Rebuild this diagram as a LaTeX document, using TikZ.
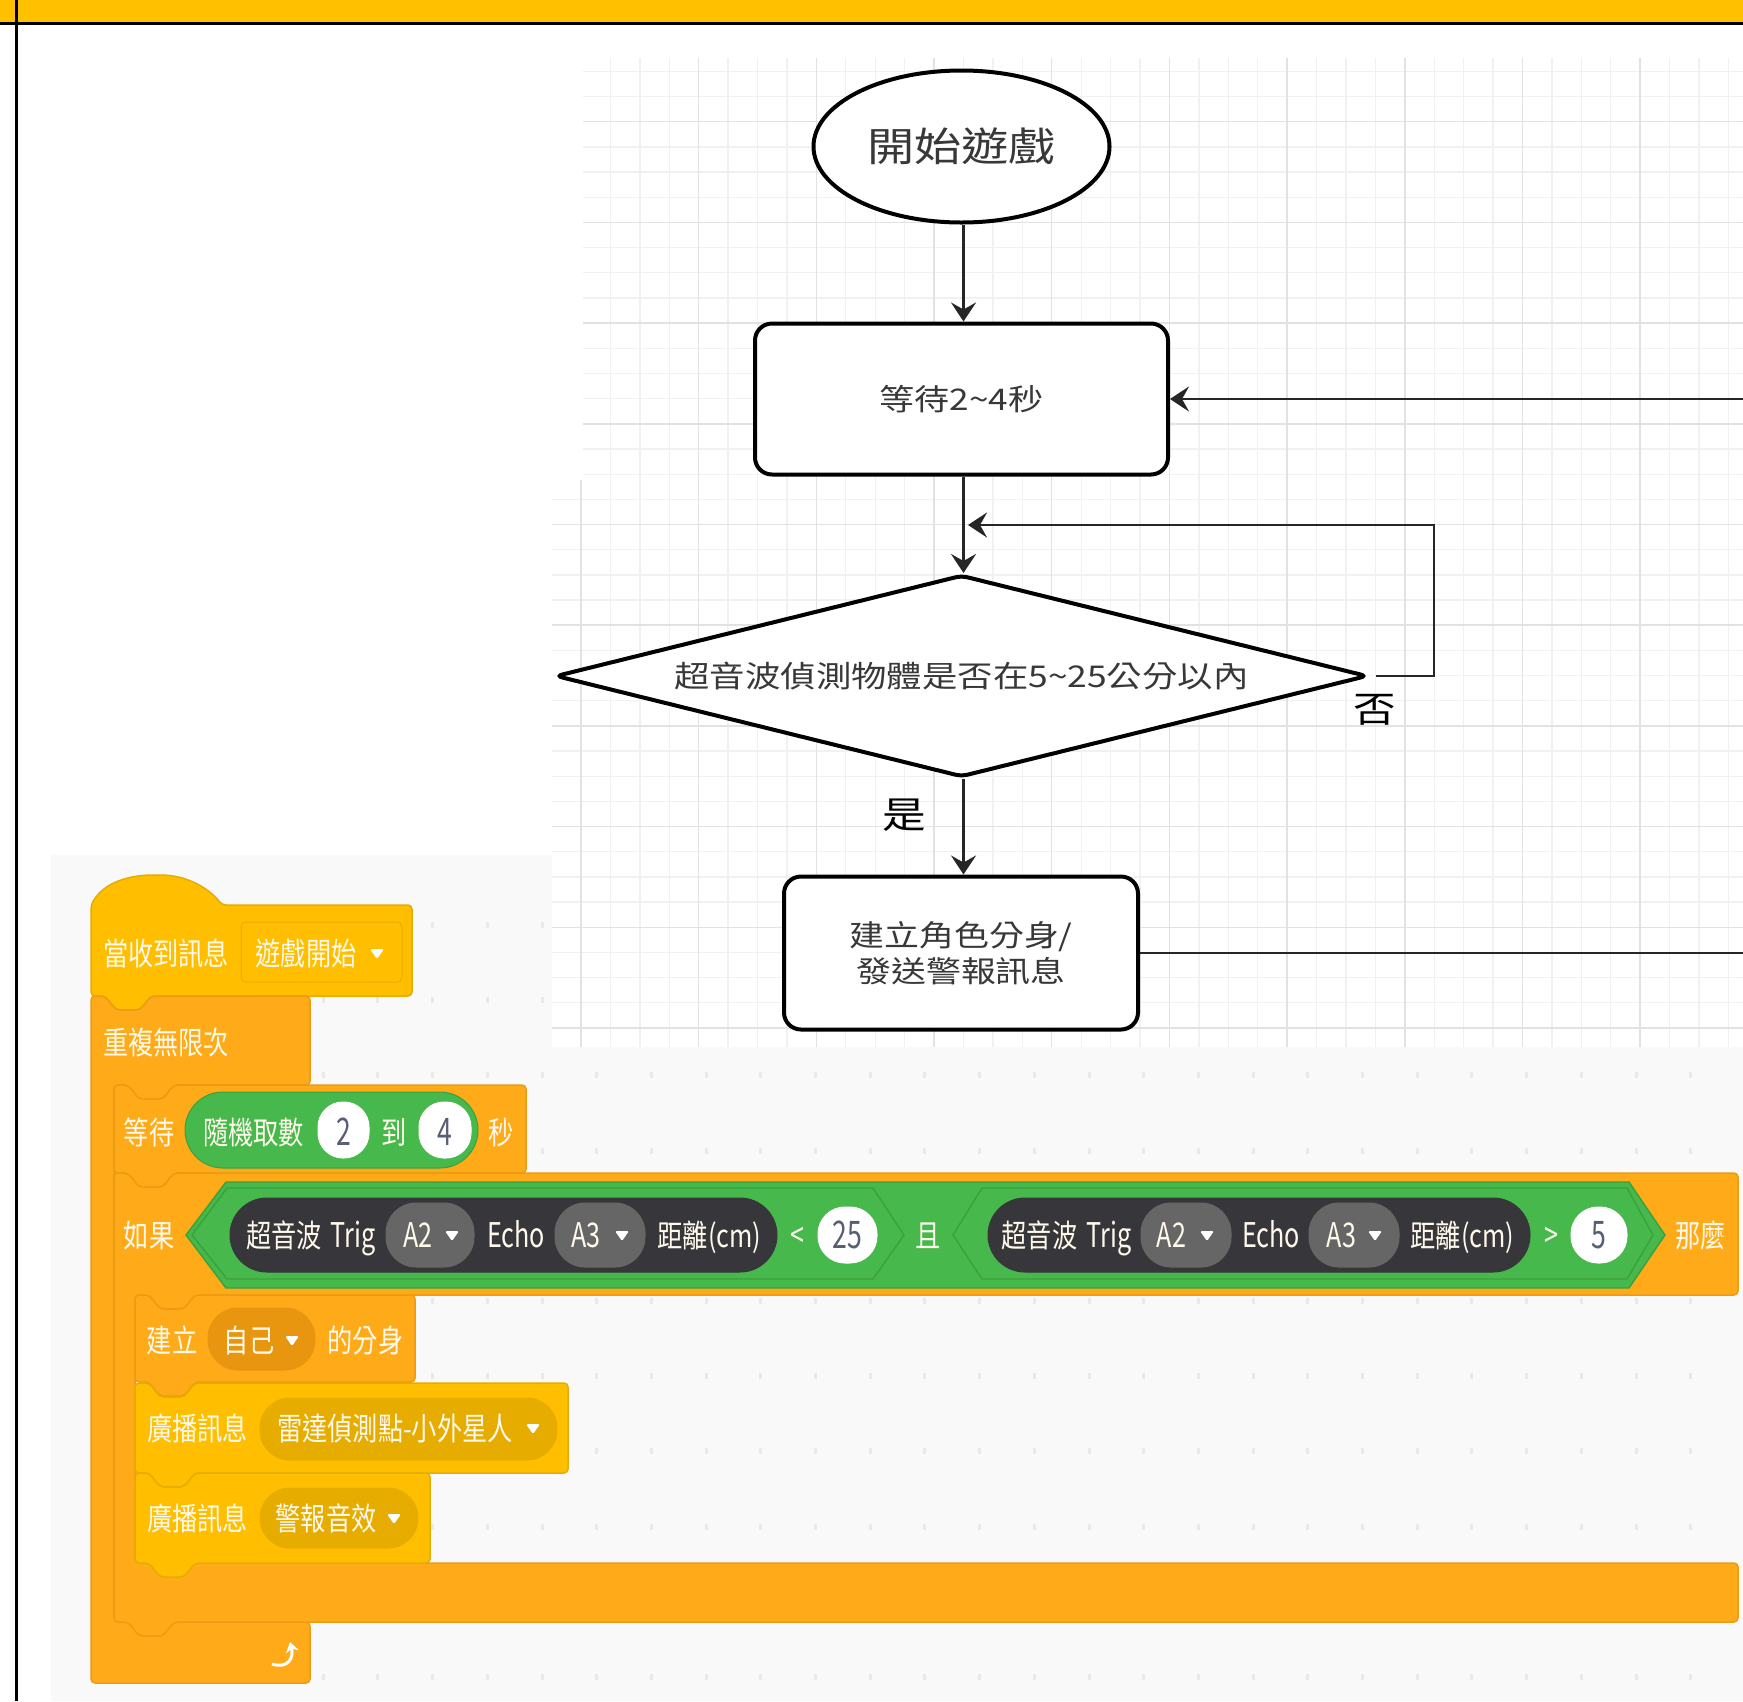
\documentclass[tikz,border=0pt]{standalone}
\usepackage{fontspec}
\usetikzlibrary{shapes.geometric,arrows.meta,calc}
\setmainfont{Noto Sans CJK TC}
\newfontfamily\flowfont[FakeStretch=1.18]{Noto Sans CJK TC}
\newfontfamily\blockfont[FakeStretch=0.8]{Noto Sans CJK TC}
\newfontfamily\latinfont[FakeStretch=0.74]{Noto Sans CJK TC}
\newfontfamily\digitfont[FakeStretch=0.7]{Noto Sans CJK TC}
\definecolor{bandyellow}{HTML}{FFC000}
\definecolor{panelgrey}{HTML}{F9F9F9}
\definecolor{gridminor}{HTML}{F1F1F1}
\definecolor{gridmajor}{HTML}{E2E2E2}
\definecolor{dotgrey}{HTML}{E9E9E9}
\definecolor{hatfill}{HTML}{FFBF00}
\definecolor{hatline}{HTML}{E6AC00}
\definecolor{ctrlfill}{HTML}{FFAB19}
\definecolor{ctrlline}{HTML}{EC9C13}
\definecolor{ctrlpill}{HTML}{E8950F}
\definecolor{opfill}{HTML}{47B84B}
\definecolor{opline}{HTML}{3BA03F}
\definecolor{darkpill}{HTML}{37363A}
\definecolor{greypill}{HTML}{666666}
\definecolor{numtext}{HTML}{575E75}
\definecolor{blocktext}{HTML}{FFF9EC}
\tikzset{
  flownode/.style={draw=black,fill=white,text=black!78,line width=4pt,inner sep=0pt,align=center,font=\flowfont},
  flowrect/.style={flownode,rectangle,rounded corners=17pt},
  flowline/.style={draw=black!85,line width=2.8pt},
  flowarrow/.style={flowline,-{Stealth[length=19pt,width=25pt,inset=7pt]}},
  hatblock/.style={fill=hatfill,draw=hatline,line width=1.5pt,rounded corners=4pt},
  ctrlblock/.style={fill=ctrlfill,draw=ctrlline,line width=1.5pt,rounded corners=4pt},
  btxt/.style={text=blocktext,inner sep=0pt,text height=28pt,text depth=4pt,font=\blockfont\fontsize{31.5}{34}\selectfont},
  ltxt/.style={text=blocktext,inner sep=0pt,text height=30pt,text depth=5.2pt,font=\latinfont\fontsize{34}{36}\selectfont},
  numtxt/.style={text=numtext,inner sep=0pt,text height=32pt,text depth=4.2pt,font=\digitfont\fontsize{38}{40}\selectfont},
  hexshape/.style={fill=opfill,draw=opline,line width=1.4pt},
  caret/.style={fill=white,rounded corners=1.5pt},
}
\newcommand\topnotch[2]{-- ({#1+14},#2) -- ({#1+25},{#2+14}) -- ({#1+49},{#2+14}) -- ({#1+60},#2)}
\newcommand\botbump[2]{-- ({#1+60},#2) -- ({#1+49},{#2+14}) -- ({#1+25},{#2+14}) -- ({#1+14},#2)}
% simple stack block: x, top, right, bottom, style
\newcommand\stackblock[5]{\draw[#5] (#1,#2) \topnotch{#1}{#2} -- (#3,#2) -- (#3,#4) \botbump{#1}{#4} -- (#1,#4) -- cycle;}
\newcommand\pill[5]{\draw[fill=#4,draw=#5,line width=1pt,rounded corners=#3] #1 rectangle #2;}
\newcommand\caretat[2]{\fill[caret] ({#1-7},{#2-4}) -- ({#1+7},{#2-4}) -- (#1,{#2+6}) -- cycle;}
\begin{document}
\begin{tikzpicture}[x=1pt,y=-1pt]
\useasboundingbox (0,0) rectangle (1743,1701);
\fill[white] (0,0) rectangle (1743,1701);
% grey panel
\fill[panelgrey] (51,855) rectangle (552,1701);
\fill[panelgrey] (552,1047) rectangle (1743,1701);
% panel dots
\begin{scope}
\clip (51,855) rectangle (552,1701) (552,1047) rectangle (1743,1701);
\foreach \i in {0,...,30}{
  \foreach \j in {0,...,10}{
    \fill[dotgrey] ({104.4+54.7*\i-1.5},{925+75.2*\j-3}) rectangle ++(3,6);
  }
}
\end{scope}
% grid
\begin{scope}
\clip (583,58) rectangle (1743,480) (552,480) rectangle (1743,1047);
\foreach \i in {0,...,40}{
  \draw[gridminor,line width=1.3pt] ({551.6+29.42*\i},58) -- ({551.6+29.42*\i},1047);
}
\foreach \j in {0,...,40}{
  \draw[gridminor,line width=1.3pt] (552,{21+25.175*\j}) -- (1743,{21+25.175*\j});
}
\foreach \i in {0,...,10}{
  \draw[gridmajor,line width=1.5pt] ({581+117.68*\i},58) -- ({581+117.68*\i},1047);
}
\foreach \j in {0,...,10}{
  \draw[gridmajor,line width=1.5pt] (552,{21+100.7*\j}) -- (1743,{21+100.7*\j});
}
\end{scope}
% frame
\fill[bandyellow] (0,0) rectangle (1743,23);
\draw[black,line width=2.2pt] (0,23.5) -- (1743,23.5);
\draw[black,line width=2.2pt] (16.5,0) -- (16.5,1701);

% flowchart
\node[flownode,ellipse,minimum width=296pt,minimum height=152pt,font=\flowfont\fontsize{40}{46}\selectfont] (start) at (961.5,146.5) {開始遊戲};
\node[flowrect,minimum width=413pt,minimum height=151pt,font=\flowfont\fontsize{29.8}{34}\selectfont] (wait) at (961.5,399) {等待2\textasciitilde 4秒};
\node[flownode,diamond,rounded corners=6pt,minimum width=812pt,minimum height=202pt,aspect=4,font=\flowfont\fontsize{30}{34}\selectfont] (check) at (961.5,676) {超音波偵測物體是否在5\textasciitilde 25公分以內};
\node[flowrect,minimum width=354pt,minimum height=153pt,font=\flowfont\fontsize{29.6}{36}\selectfont] (clone) at (961,953) {建立角色分身/\\發送警報訊息};
\node[inner sep=0pt,font=\flowfont\fontsize{37}{40}\selectfont] (yes) at (904,815) {是};
\node[inner sep=0pt,font=\flowfont\fontsize{36}{40}\selectfont] (no) at (1375,710) {否};
\coordinate (spine) at (963.5,0);
\coordinate (edgeA) at (1743,399);
\coordinate (edgeB) at (1743,953);
\coordinate (noStart) at (1376,676);
\coordinate (noCorner) at (1434,525);
\coordinate (noEnd) at (968,525);
\draw[flowarrow] (start.south -| spine) -- (wait.north -| spine);
\draw[flowarrow] (wait.south -| spine) -- (check.north -| spine);
\draw[flowarrow] (check.south -| spine) -- (clone.north -| spine);
\draw[flowline] (clone.east) -- (edgeB);
\draw[flowarrow] (edgeA) -- (wait.east);
\draw[flowarrow] (noStart) -| (noCorner) -- (noEnd);

% hat block
\draw[hatblock] (91,996) -- (91,905) .. controls (104,882) and (130,875) .. (157,875) .. controls (185,875) and (208,887) .. (222,905) -- (412,905) -- (412,996) \botbump{91}{996} -- cycle;
\pill{(241,922)}{(402,982)}{5pt}{hatfill}{hatline}
\node[btxt] (h1) at (166,953) {當收到訊息};
\node[btxt] (h2) at (306,953) {遊戲開始};
\caretat{377}{953}

% forever block
\draw[ctrlblock] (91,996) \topnotch{91}{996} -- (310,996) -- (310,1085) \botbump{114}{1085} -- (114,1085) -- (114,1622) -- (310,1622) -- (310,1683) -- (91,1683) -- cycle;
\node[btxt] (f1) at (166,1042) {重複無限次};
% loop arrow
\draw[white,line width=3pt,-{Stealth[length=10pt,width=13pt]}] (272,1664) .. controls (288,1669) and (294,1658) .. (290,1642);

% wait block
\stackblock{114}{1085}{526}{1173}{ctrlblock}
\pill{(185,1092)}{(478,1168)}{38pt}{opfill}{opline}
\pill{(318,1102)}{(369,1158)}{25pt}{white}{white}
\pill{(419,1102)}{(471,1158)}{25pt}{white}{white}
\node[btxt] (w1) at (149,1132) {等待};
\node[btxt] (w2) at (253.5,1132) {隨機取數};
\node[numtxt] (w3) at (344,1132) {2};
\node[btxt] (w4) at (394.5,1132) {到};
\node[numtxt] (w5) at (445,1132) {4};
\node[btxt] (w6) at (501.5,1132) {秒};

% if block
\draw[ctrlblock] (114,1173) \topnotch{114}{1173} -- (1738,1173) -- (1738,1295) \botbump{135}{1295} -- (135,1295) -- (135,1563) -- (1738,1563) -- (1738,1622) \botbump{114}{1622} -- (114,1622) -- cycle;
\node[btxt] (i1) at (149,1235) {如果};
\draw[hexshape] (186,1235) -- (226,1182) -- (1629,1182) -- (1665,1235) -- (1629,1288) -- (226,1288) -- cycle;
\draw[hexshape] (192,1235) -- (227,1188) -- (873,1188) -- (904,1235) -- (873,1279) -- (227,1279) -- cycle;
\draw[hexshape] (953,1235) -- (982,1188) -- (1627,1188) -- (1653,1235) -- (1627,1279) -- (982,1279) -- cycle;
% left comparison
\pill{(230,1198)}{(777,1272)}{37pt}{darkpill}{darkpill}
\pill{(386,1203)}{(474,1267)}{30pt}{greypill}{greypill}
\pill{(555,1203)}{(645,1267)}{30pt}{greypill}{greypill}
\pill{(818,1207)}{(877,1263)}{27pt}{white}{white}
\node[btxt] (c1) at (284,1235) {超音波};
\node[ltxt] (c2) at (353,1235) {Trig};
\node[ltxt] (c3) at (418,1235) {A2};
\caretat{452}{1235}
\node[ltxt] (c4) at (516,1235) {Echo};
\node[ltxt] (c5) at (586,1235) {A3};
\caretat{622}{1235}
\node[btxt] (c6) at (709.5,1235) {距離(cm)};
\node[ltxt] (c7) at (797,1235) {<};
\node[numtxt] (c8) at (847.5,1235) {25};
\node[btxt] (c9) at (928.5,1235) {且};
% right comparison
\pill{(988,1198)}{(1530,1272)}{37pt}{darkpill}{darkpill}
\pill{(1141,1203)}{(1231,1267)}{30pt}{greypill}{greypill}
\pill{(1309,1203)}{(1399,1267)}{30pt}{greypill}{greypill}
\pill{(1571,1207)}{(1627,1263)}{27pt}{white}{white}
\node[btxt] (d1) at (1039.5,1235) {超音波};
\node[ltxt] (d2) at (1109,1235) {Trig};
\node[ltxt] (d3) at (1171.5,1235) {A2};
\caretat{1207}{1235}
\node[ltxt] (d4) at (1271,1235) {Echo};
\node[ltxt] (d5) at (1341.5,1235) {A3};
\caretat{1375}{1235}
\node[btxt] (d6) at (1462.5,1235) {距離(cm)};
\node[ltxt] (d7) at (1551,1235) {>};
\node[numtxt] (d8) at (1599,1235) {5};
\node[btxt] (d9) at (1700.5,1235) {那麼};

% create clone
\stackblock{135}{1295}{415}{1382}{ctrlblock}
\pill{(208,1308)}{(315,1370)}{30pt}{ctrlpill}{ctrlpill}
\node[btxt] (k1) at (172,1340) {建立};
\node[btxt] (k2) at (249,1340) {自己};
\caretat{292}{1340}
\node[btxt] (k3) at (365.5,1340) {的分身};

% broadcast 1
\stackblock{135}{1383}{568}{1473}{hatblock}
\pill{(260,1398)}{(557,1460)}{30pt}{hatline}{hatline}
\node[btxt] (b1) at (197.5,1428) {廣播訊息};
\node[btxt] (b2) at (395,1428) {雷達偵測點-小外星人};
\caretat{533}{1428}

% broadcast 2
\stackblock{135}{1473}{430}{1563}{hatblock}
\pill{(260,1488)}{(418,1548)}{30pt}{hatline}{hatline}
\node[btxt] (s1) at (197.5,1518) {廣播訊息};
\node[btxt] (s2) at (326,1518) {警報音效};
\caretat{394}{1518}
\end{tikzpicture}
\end{document}
